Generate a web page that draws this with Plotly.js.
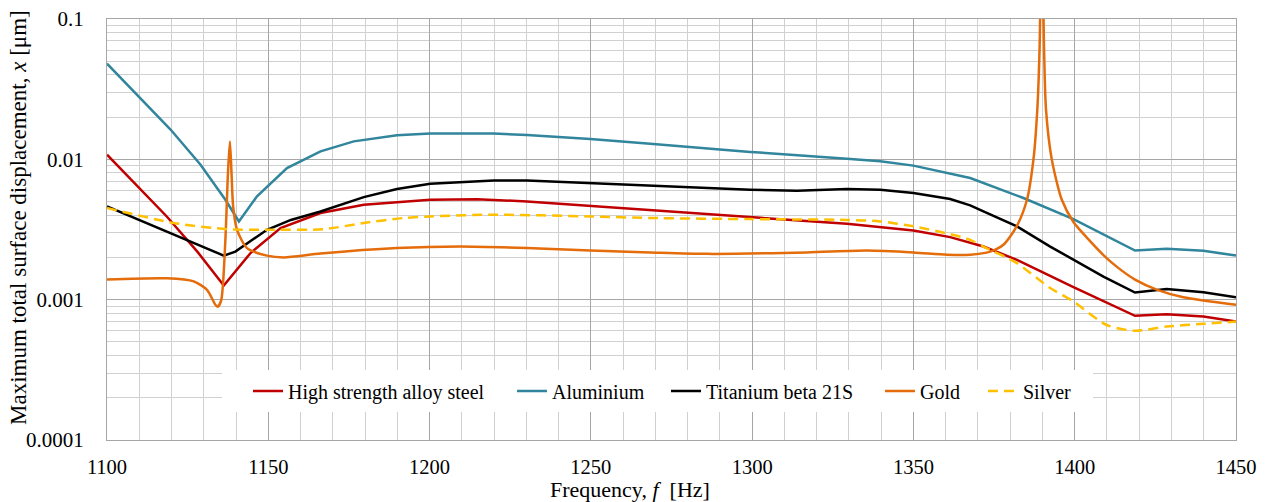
<!DOCTYPE html>
<html>
<head>
<meta charset="utf-8">
<script src="https://cdn.plot.ly/plotly-3.0.1.min.js"></script>
<style>
  html, body { margin: 0; padding: 0; background: #ffffff; }
  #chart { width: 1266px; height: 502px; }
</style>
</head>
<body>
<div id="chart"></div>
<script>
// Maximum total surface displacement versus excitation frequency, per material.
const seriesNames = ["High strength alloy steel", "Aluminium", "Titanium beta 21S", "Gold", "Silver"];

const steelFreq = [1100, 1118.6, 1128, 1136.2, 1144.5, 1153.8, 1166.2, 1179.6, 1200.2, 1214.7, 1230.2, 1249.8, 1268.4, 1299.4, 1329.4, 1350, 1361.4, 1371.7, 1382.1, 1399.6, 1418.7, 1428.5, 1439.9, 1450];
const steelDisp = [0.0108, 0.0039, 0.0022, 0.00126, 0.00215, 0.00324, 0.00414, 0.00475, 0.00515, 0.0052, 0.00501, 0.00466, 0.00437, 0.00385, 0.00347, 0.00311, 0.00279, 0.00239, 0.00192, 0.00123, 0.000767, 0.000788, 0.000759, 0.000698];

const aluFreq = [1100, 1110.4, 1119.7, 1129, 1136.7, 1140.9, 1146.5, 1155.8, 1166.2, 1176.5, 1189.9, 1200.2, 1219.9, 1230.2, 1249.8, 1268.4, 1299.4, 1329.4, 1339.7, 1350, 1367.6, 1384.1, 1399.6, 1418.7, 1428.5, 1439.9, 1450];
const aluDisp = [0.0481, 0.0274, 0.0163, 0.00916, 0.00515, 0.00361, 0.00545, 0.00867, 0.0114, 0.01343, 0.01483, 0.01525, 0.01525, 0.01493, 0.01397, 0.0129, 0.0113, 0.0101, 0.00968, 0.00902, 0.00736, 0.0053, 0.00375, 0.00224, 0.00231, 0.00223, 0.00206];

const tiFreq = [1100, 1136.2, 1139.8, 1149.6, 1157, 1166.2, 1179.6, 1189.9, 1200.2, 1219.9, 1230.2, 1249.8, 1268.4, 1299.4, 1313.9, 1329.4, 1339.7, 1350, 1361.4, 1367.6, 1371.7, 1382.1, 1392.4, 1399.6, 1408.9, 1418.7, 1428.5, 1439.9, 1450];
const tiDisp = [0.00462, 0.00206, 0.0022, 0.00315, 0.0037, 0.00425, 0.00538, 0.00615, 0.0067, 0.00708, 0.00706, 0.00678, 0.00649, 0.00608, 0.00598, 0.00615, 0.00608, 0.00576, 0.00521, 0.0047, 0.00426, 0.00333, 0.00239, 0.00192, 0.00146, 0.001124, 0.00119, 0.00113, 0.00104];

const goldFreq = [1100, 1118.6, 1126.9, 1131, 1133.6, 1134.3, 1135.4, 1136.7, 1137.5, 1138.1, 1138.6, 1139.1, 1140.3, 1143.4, 1149.6, 1154.8, 1166.2, 1189.9, 1209.5, 1230.2, 1249.8, 1268.4, 1286, 1317, 1335.6, 1350, 1360.4, 1367.6, 1373.8, 1377.9, 1382, 1385.2, 1387.2, 1388.4, 1389.1, 1389.8, 1390.5, 1391.1, 1392.9, 1396, 1399.6, 1404.2, 1408.9, 1413, 1418.7, 1425.4, 1433.7, 1450];
const goldDisp = [0.00139, 0.00142, 0.00135, 0.001175, 0.00092, 0.00089, 0.00099, 0.00267, 0.008, 0.0134, 0.008, 0.00462, 0.00315, 0.00233, 0.00206, 0.002, 0.00213, 0.00233, 0.00239, 0.00233, 0.00224, 0.00217, 0.00212, 0.00217, 0.00224, 0.00217, 0.00209, 0.00209, 0.0022, 0.00246, 0.00333, 0.00515, 0.00995, 0.0226, 0.0605, 0.5, 0.0605, 0.0226, 0.00995, 0.00515, 0.00358, 0.0027, 0.00208, 0.00172, 0.00139, 0.00118, 0.00104, 0.000918];

const silverFreq = [1100, 1120.7, 1137.2, 1149.6, 1167.2, 1179.6, 1192, 1200.2, 1219.9, 1249.8, 1268.4, 1299.4, 1329.4, 1339.7, 1350, 1361.4, 1367.6, 1371.7, 1382.1, 1392.4, 1399.6, 1409.9, 1418.7, 1428.5, 1439.9, 1450];
const silverDisp = [0.0045, 0.00352, 0.00318, 0.00315, 0.00318, 0.00352, 0.00382, 0.00392, 0.00403, 0.00392, 0.00382, 0.00375, 0.0037, 0.00361, 0.00333, 0.00293, 0.00267, 0.00239, 0.00182, 0.00121, 0.00097, 0.00066, 0.0006, 0.000643, 0.000673, 0.000698];

const yTickVals = [0.0001, 0.001, 0.01, 0.1];
const yTickText = ["0.0001", "0.001", "0.01", "0.1"];
const xTickVals = [1100, 1150, 1200, 1250, 1300, 1350, 1400, 1450];

const colors = ["#C00000", "#31859C", "#000000", "#E46C0A", "#FFC000"];
const FONT = "'Liberation Serif', 'Times New Roman', serif";

// minor log grid: 2..9 within every decade
const yMinor = [];
for (let e = -4; e < -1; e++) {
  for (let k = 2; k <= 9; k++) yMinor.push(k * Math.pow(10, e));
}

const xs = [steelFreq, aluFreq, tiFreq, goldFreq, silverFreq];
const ys = [steelDisp, aluDisp, tiDisp, goldDisp, silverDisp];
const legendIds = ["legend", "legend2", "legend3", "legend4", "legend5"];
// smooth curves for the resonant and gently varying series, straight segments elsewhere
const shapes = ["linear", "linear", "linear", "spline", "spline"];

const traces = seriesNames.map((name, i) => ({
  type: "scatter",
  mode: "lines",
  name: name,
  x: xs[i],
  y: ys[i],
  legend: legendIds[i],
  line: {
    color: colors[i], width: 2.5,
    dash: i === 4 ? "10px,6px" : "solid",
    shape: shapes[i], smoothing: 0.7
  },
  hoverinfo: "x+y+name"
}));

// plot area in pixels, used to place the legend entries and titles
const L = 107, R = 30, T = 19, B = 62, W = 1266, H = 502;
const pw = W - L - R, ph = H - T - B;
const px = v => (v - L) / pw;
const py = v => (H - B - v) / ph;

const legendStarts = [248, 512, 666, 880, 983];
const layout = {
  width: W, height: H,
  margin: { l: L, r: R, t: T, b: B, pad: 0 },
  paper_bgcolor: "#ffffff",
  plot_bgcolor: "#ffffff",
  font: { family: FONT, size: 21, color: "#000000" },
  showlegend: true,
  xaxis: {
    type: "linear",
    range: [1100, 1450],
    tickvals: xTickVals,
    ticktext: xTickVals.map(String),
    ticks: "",
    ticklabelstandoff: 8,
    showgrid: true,
    gridcolor: "#a6a6a6",
    gridwidth: 1,
    showline: true, mirror: true, linecolor: "#a6a6a6", linewidth: 1,
    zeroline: false,
    minor: { dtick: 10, showgrid: true, gridcolor: "#d0d0d0", gridwidth: 1, ticks: "" },
    tickfont: { family: FONT, size: 20.5, color: "#000000" }
  },
  yaxis: {
    type: "log",
    range: [-4, -1],
    tickvals: yTickVals,
    ticktext: yTickText,
    ticks: "",
    ticklabelstandoff: 18,
    showgrid: true,
    gridcolor: "#a6a6a6",
    gridwidth: 1,
    showline: true, mirror: true, linecolor: "#a6a6a6", linewidth: 1,
    zeroline: false,
    minor: { tickmode: "array", tickvals: yMinor, showgrid: true, gridcolor: "#d0d0d0", gridwidth: 1, ticks: "" },
    tickfont: { family: FONT, size: 21, color: "#000000" }
  },
  shapes: [{
    type: "rect", xref: "paper", yref: "paper", layer: "above",
    x0: px(222), x1: px(1093), y0: py(412), y1: py(370),
    fillcolor: "#ffffff", line: { width: 0 }
  }],
  annotations: [
    {
      xref: "paper", yref: "paper", x: px(630), y: py(489),
      xanchor: "center", yanchor: "middle", showarrow: false,
      text: "Frequency, <i>f</i>\u00a0 [Hz]",
      font: { family: FONT, size: 22, color: "#000000" }
    },
    {
      xref: "paper", yref: "paper", x: px(18), y: py(218),
      xanchor: "center", yanchor: "middle", showarrow: false, textangle: -90,
      text: "Maximum total surface displacement, <i>x</i> [\u03bcm]",
      font: { family: FONT, size: 23, color: "#000000" }
    }
  ]
};

legendIds.forEach((id, i) => {
  layout[id] = {
    x: px(legendStarts[i]), xanchor: "left",
    y: py(391), yanchor: "middle",
    orientation: "h",
    bgcolor: "rgba(0,0,0,0)",
    borderwidth: 0,
    font: { family: FONT, size: 20, color: "#000000" },
    itemwidth: 30
  };
});

Plotly.newPlot("chart", traces, layout, { displayModeBar: false, responsive: false });
</script>
</body>
</html>
